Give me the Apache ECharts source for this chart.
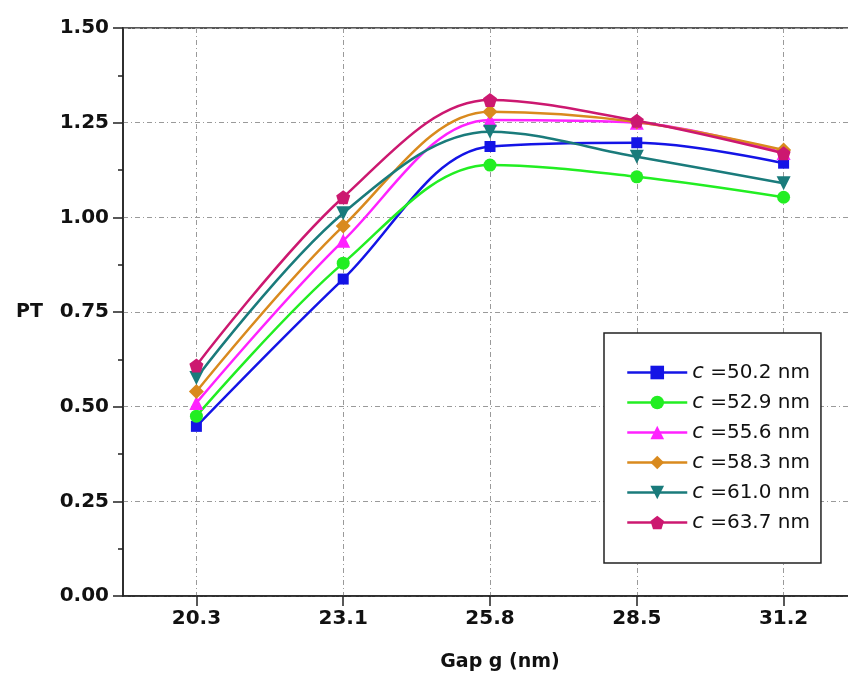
<!DOCTYPE html>
<html>
<head>
<meta charset="utf-8">
<script src="https://cdn.jsdelivr.net/npm/echarts@6/dist/echarts.min.js"></script>
<style>html,body{margin:0;padding:0;background:#fff}#c{width:848px;height:681px}</style>
</head>
<body>
<div id="c"></div>
<script>
var categories = ['20.3', '23.1', '25.8', '28.5', '31.2'];
var cValues = ['50.2', '52.9', '55.6', '58.3', '61.0', '63.7'];
var s502 = [0.448, 0.837, 1.187, 1.197, 1.143];
var s529 = [0.475, 0.879, 1.138, 1.107, 1.053];
var s556 = [0.510, 0.938, 1.257, 1.250, 1.170];
var s583 = [0.540, 0.977, 1.279, 1.252, 1.178];
var s610 = [0.576, 1.011, 1.226, 1.160, 1.090];
var s637 = [0.609, 1.053, 1.310, 1.255, 1.169];
var yTicks = ['0.00', '0.25', '0.50', '0.75', '1.00', '1.25', '1.50'];

var seriesData = [s502, s529, s556, s583, s610, s637];
var colors = ['#1414e6', '#22ee22', '#ff22ff', '#d98a1e', '#1a7b7b', '#cc1870'];
var symbols = ['rect', 'circle', 'triangle', 'diamond', 'triangle',
  'path://M0,-1 L0.951,-0.309 L0.588,0.809 L-0.588,0.809 L-0.951,-0.309 Z'];
var sizes = [11, 13, 14, 15, 14, 14];
var rotates = [0, 0, 0, 0, 180, 0];

var series = seriesData.map(function (d, i) {
  return {
    name: 'c =' + cValues[i] + ' nm',
    type: 'line',
    data: d,
    smooth: 0.35,
    symbol: symbols[i],
    symbolSize: sizes[i],
    symbolRotate: rotates[i],
    showAllSymbol: true,
    lineStyle: { width: 2.5, color: colors[i] },
    itemStyle: { color: colors[i] },
    z: 2 + i
  };
});

var chart = echarts.init(document.getElementById('c'), null, { renderer: 'canvas' });
var gridDash = { color: '#9a9a9a', width: 1, type: [5, 3, 1, 3] };
var lbl = { fontFamily: 'DejaVu Sans', fontWeight: 'bold', fontSize: 20, color: '#111' };
chart.setOption({
  animation: false,
  backgroundColor: '#fff',
  grid: { left: 123, top: 28, height: 568, width: 734, outerBoundsMode: 'none', containLabel: false, show: true, borderColor: '#222', borderWidth: 1.5, backgroundColor: 'transparent' },
  xAxis: {
    type: 'category',
    data: categories,
    boundaryGap: true,
    name: 'Gap g (nm)',
    nameLocation: 'middle',
    nameGap: 57,
    nameTextStyle: Object.assign({}, lbl, { fontSize: 19, padding: [0, 0, 0, 20] }),
    axisLine: { lineStyle: { color: '#222', width: 1.5 } },
    axisTick: { show: true, alignWithLabel: true, length: 10, lineStyle: { color: '#222', width: 1.5 } },
    axisLabel: Object.assign({}, lbl, { margin: 13 }),
    splitLine: { show: true, alignWithLabel: true, lineStyle: gridDash }
  },
  yAxis: {
    type: 'value',
    min: 0,
    max: 1.5,
    interval: 0.25,
    name: 'PT',
    nameLocation: 'middle',
    nameGap: 80,
    nameRotate: 0,
    nameTextStyle: Object.assign({}, lbl, { fontSize: 19 }),
    axisLine: { show: true, lineStyle: { color: '#222', width: 1.5 } },
    axisTick: { show: true, length: 10, lineStyle: { color: '#222', width: 1.5 } },
    minorTick: { show: true, splitNumber: 2, length: 5, lineStyle: { color: '#222', width: 1.5 } },
    axisLabel: Object.assign({}, lbl, {
      margin: 14,
      formatter: function (v) { return yTicks[Math.round(v / 0.25)]; }
    }),
    splitLine: { show: true, lineStyle: gridDash }
  },
  legend: {
    orient: 'vertical',
    left: 604,
    top: 333,
    backgroundColor: '#fff',
    borderColor: '#222',
    borderWidth: 1.5,
    borderRadius: 0,
    padding: [29, 11, 30, 22],
    itemWidth: 60,
    itemHeight: 17,
    itemGap: 9,
    lineStyle: { width: 2.5 },
    formatter: function (name) { return '{i|c}{r|' + name.slice(1) + '}'; },
    textStyle: {
      color: '#111',
      fontFamily: 'DejaVu Sans',
      fontSize: 20,
      lineHeight: 17,
      rich: {
        i: { fontStyle: 'italic', fontSize: 21, fontFamily: 'DejaVu Sans', color: '#111', lineHeight: 17 },
        r: { fontSize: 20, fontFamily: 'DejaVu Sans', color: '#111', lineHeight: 17 }
      }
    },
    data: series.map(function (s) { return s.name; })
  },
  series: series
});
</script>
</body>
</html>
